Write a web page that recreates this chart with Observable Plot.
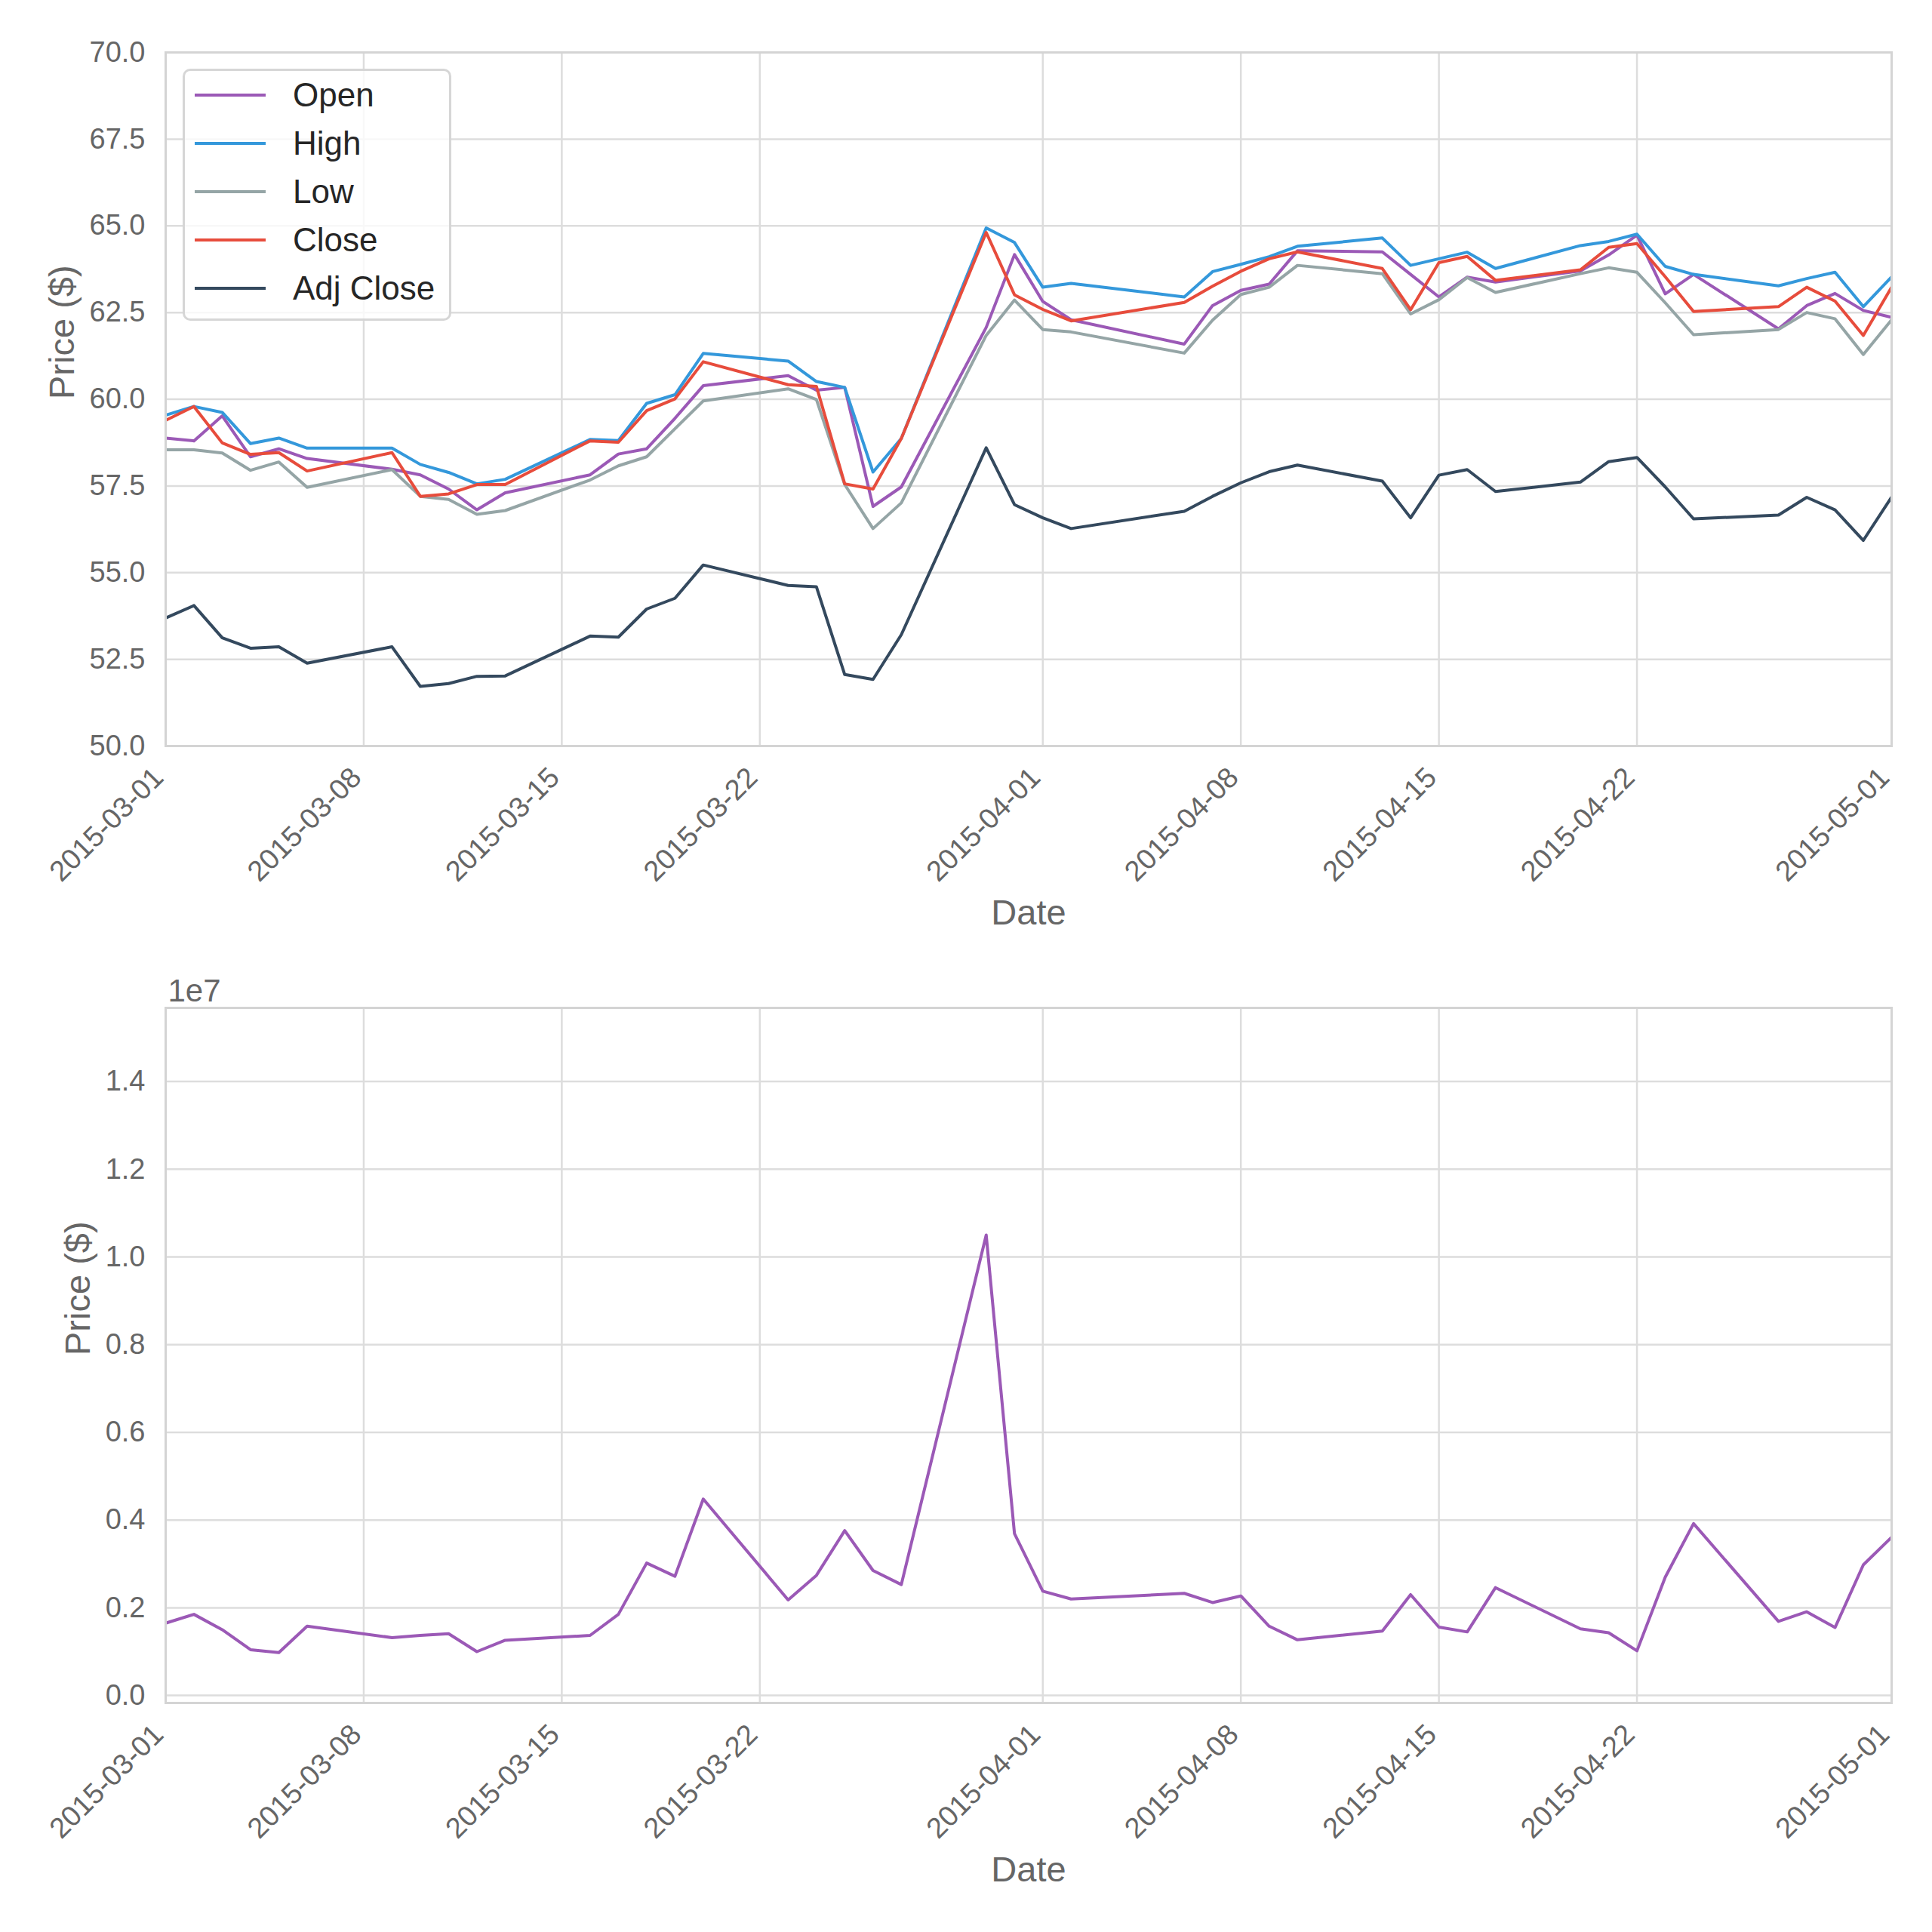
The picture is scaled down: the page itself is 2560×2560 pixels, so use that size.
<!DOCTYPE html>
<html>
<head>
<meta charset="utf-8">
<script src="https://cdn.jsdelivr.net/npm/d3@7"></script>
<script src="https://cdn.jsdelivr.net/npm/@observablehq/plot@0.6"></script>
<style>
  html, body { margin: 0; padding: 0; background: #ffffff; }
  #root { position: relative; width: 2560px; height: 2560px; font-family: "Liberation Sans", Arial, sans-serif; }
  #top, #bottom { position: absolute; left: 0; }
  #top { top: 0; }
  #bottom { top: 1280px; }
  .legend { position: absolute; left: 242px; top: 91px; width: 356px; height: 334px; box-sizing: border-box;
            border: 3px solid rgba(204,204,204,0.8); border-radius: 10px; background: rgba(255,255,255,0.8); }
  .item { position: absolute; left: 0; height: 0; }
  .sw { position: absolute; left: 13px; width: 94px; height: 0; border-top: 4px solid; top: -2px; }
  .lab { position: absolute; left: 143px; top: -25px; font-size: 44px; color: #262626; line-height: 50px; white-space: nowrap; }
</style>
</head>
<body>
<div id="root">
  <div id="top"></div>
  <div id="bottom"></div>
</div>
<script>
// ---------------- data ----------------
const dates = [
  "2015-03-01","2015-03-02","2015-03-03","2015-03-04","2015-03-05","2015-03-06",
  "2015-03-09","2015-03-10","2015-03-11","2015-03-12","2015-03-13",
  "2015-03-16","2015-03-17","2015-03-18","2015-03-19","2015-03-20",
  "2015-03-23","2015-03-24","2015-03-25","2015-03-26","2015-03-27",
  "2015-03-30","2015-03-31","2015-04-01","2015-04-02",
  "2015-04-06","2015-04-07","2015-04-08","2015-04-09","2015-04-10",
  "2015-04-13","2015-04-14","2015-04-15","2015-04-16","2015-04-17",
  "2015-04-20","2015-04-21","2015-04-22","2015-04-23","2015-04-24",
  "2015-04-27","2015-04-28","2015-04-29","2015-04-30","2015-05-01"
];
const openPrice = [
  58.88,58.80,59.52,58.34,58.57,58.29,
  57.98,57.82,57.41,56.81,57.30,
  57.82,58.42,58.57,59.45,60.39,
  60.68,60.26,60.34,56.91,57.47,
  62.07,64.17,62.82,62.29,
  61.59,62.70,63.14,63.32,64.28,
  64.25,63.60,62.95,63.52,63.38,
  63.70,64.16,64.73,63.04,63.60,
  62.03,62.70,63.05,62.56,62.36
];
const highPrice = [
  59.54,59.79,59.62,58.72,58.88,58.59,
  58.59,58.12,57.89,57.56,57.69,
  58.84,58.81,59.88,60.13,61.32,
  61.10,60.51,60.34,57.90,58.87,
  64.94,64.52,63.23,63.34,
  62.95,63.68,63.89,64.11,64.41,
  64.65,63.86,64.05,64.24,63.77,
  64.43,64.55,64.76,63.83,63.60,
  63.27,63.48,63.66,62.67,63.53
];
const lowPrice = [
  58.54,58.54,58.45,57.95,58.19,57.46,
  57.97,57.20,57.11,56.68,56.79,
  57.67,58.08,58.34,59.15,59.95,
  60.30,59.99,57.54,56.27,57.01,
  61.84,62.86,62.01,61.94,
  61.33,62.28,63.02,63.23,63.86,
  63.62,62.46,62.87,63.51,63.08,
  63.62,63.79,63.66,62.78,61.86,
  62.01,62.50,62.32,61.29,62.29
];
const closePrice = [
  59.39,59.79,58.74,58.41,58.46,57.93,
  58.46,57.20,57.27,57.54,57.54,
  58.80,58.76,59.67,60.01,61.08,
  60.42,60.37,57.56,57.41,58.87,
  64.81,63.01,62.59,62.26,
  62.79,63.26,63.69,64.05,64.25,
  63.77,62.58,63.94,64.12,63.43,
  63.73,64.38,64.49,63.53,62.53,
  62.67,63.23,62.83,61.84,63.23
];
const adjClosePrice = [
  53.69,54.05,53.12,52.82,52.86,52.39,
  52.86,51.72,51.80,52.01,52.02,
  53.17,53.14,53.95,54.26,55.22,
  54.63,54.59,52.06,51.92,53.21,
  58.60,56.96,56.58,56.27,
  56.77,57.20,57.59,57.91,58.10,
  57.64,56.58,57.81,57.97,57.34,
  57.61,58.20,58.32,57.47,56.55,
  56.66,57.17,56.81,55.93,57.18
];
const volume = [
  1650000,1850000,1500000,1045000,980000,1580000,
  1320000,1370000,1410000,1000000,1260000,
  1370000,1850000,3020000,2720000,4480000,
  2180000,2740000,3760000,2850000,2530000,
  10500000,3690000,2380000,2200000,
  2330000,2120000,2270000,1580000,1270000,
  1470000,2300000,1560000,1450000,2460000,
  1520000,1430000,1020000,2700000,3920000,
  1690000,1910000,1550000,2980000,3610000
];
const seriesNames = ["Open","High","Low","Close","Adj Close"];
const seriesColors = ["#9b59b6","#3498db","#95a5a6","#e74c3c","#34495e"];
const volumeColor = "#9b59b6";
const xTickLabels = ["2015-03-01","2015-03-08","2015-03-15","2015-03-22","2015-04-01","2015-04-08","2015-04-15","2015-04-22","2015-05-01"];
const priceTicks = [50, 52.5, 55, 57.5, 60, 62.5, 65, 67.5, 70];
const volumeTicks = [0, 2e6, 4e6, 6e6, 8e6, 1e7, 1.2e7, 1.4e7];
const xLabel = "Date";
const yLabel = "Price ($)";
const volumeOffsetLabel = "1e7";

// ---------------- build ----------------
const FONT = '"Liberation Sans", Arial, sans-serif';
const parse = s => new Date(s + "T00:00:00Z");
const fmtDate = d3.utcFormat("%Y-%m-%d");
const xTicks = xTickLabels.map(parse);
const xDomain = [xTicks[0], xTicks[xTicks.length - 1]];
const seriesValues = [openPrice, highPrice, lowPrice, closePrice, adjClosePrice];
const priceRows = [];
seriesNames.forEach((name, s) => {
  dates.forEach((d, i) => priceRows.push({date: parse(d), value: seriesValues[s][i], series: name}));
});
const volumeRows = dates.map((d, i) => ({date: parse(d), value: volume[i]}));

const GRID = {stroke: "#dddddd", strokeOpacity: 1, strokeWidth: 2.5};
const FRAME = {stroke: "#d4d4d4", strokeOpacity: 1, strokeWidth: 3};
const TXT = "#666666";
const LW = 4;

function xAxisMarks() {
  return [
    Plot.axisX(xTicks, {tickSize: 0, tickPadding: 25, tickRotate: -45, textAnchor: "end", lineAnchor: "top",
                        dx: -20, tickFormat: fmtDate, label: null, fill: TXT, fontSize: 38}),
    Plot.text([xLabel], {frameAnchor: "bottom", dy: 236, lineAnchor: "bottom", fontSize: 47, fill: TXT})
  ];
}

const topPlot = Plot.plot({
  width: 2560, height: 1280,
  marginLeft: 219, marginRight: 54, marginTop: 69, marginBottom: 292,
  x: {type: "utc", domain: xDomain},
  y: {domain: [50, 70]},
  color: {domain: seriesNames, range: seriesColors},
  style: {fontFamily: FONT, fontSize: "38px", color: TXT, background: "transparent", overflow: "visible"},
  marks: [
    Plot.gridX(xTicks, GRID),
    Plot.gridY(priceTicks, GRID),
    Plot.line(priceRows, {x: "date", y: "value", z: "series", stroke: "series", strokeWidth: LW, strokeLinejoin: "round", strokeLinecap: "butt"}),
    Plot.frame(FRAME),
    Plot.axisY(priceTicks, {tickSize: 0, tickPadding: 27, tickFormat: d => d.toFixed(1), label: null, fill: TXT, fontSize: 38}),
    Plot.text([yLabel], {frameAnchor: "left", dx: -155, rotate: -90, lineAnchor: "top", fontSize: 47, fill: TXT}),
    ...xAxisMarks()
  ]
});
document.getElementById("top").appendChild(topPlot);

const bottomPlot = Plot.plot({
  width: 2560, height: 1280,
  marginLeft: 219, marginRight: 54, marginTop: 55, marginBottom: 304,
  x: {type: "utc", domain: xDomain},
  y: {domain: [-170000, 15680000]},
  style: {fontFamily: FONT, fontSize: "38px", color: TXT, background: "transparent", overflow: "visible"},
  marks: [
    Plot.gridX(xTicks, GRID),
    Plot.gridY(volumeTicks, GRID),
    Plot.line(volumeRows, {x: "date", y: "value", stroke: volumeColor, strokeWidth: LW, strokeLinejoin: "round", strokeLinecap: "butt"}),
    Plot.frame(FRAME),
    Plot.axisY(volumeTicks, {tickSize: 0, tickPadding: 27, tickFormat: d => (d / 1e7).toFixed(1), label: null, fill: TXT, fontSize: 38}),
    Plot.text([yLabel], {frameAnchor: "left", dx: -134, rotate: -90, lineAnchor: "top", fontSize: 47, fill: TXT}),
    Plot.text([volumeOffsetLabel], {frameAnchor: "top-left", dx: 3, dy: -9, textAnchor: "start", lineAnchor: "bottom", fontSize: 42, fill: TXT}),
    ...xAxisMarks()
  ]
});
document.getElementById("bottom").appendChild(bottomPlot);

// ---------------- legend (HTML overlay inside top axes) ----------------
const legend = document.createElement("div");
legend.className = "legend";
seriesNames.forEach((name, i) => {
  const item = document.createElement("div");
  item.className = "item";
  item.style.top = (32 + 64 * i) + "px";
  const sw = document.createElement("div");
  sw.className = "sw";
  sw.style.borderTopColor = seriesColors[i];
  const lab = document.createElement("div");
  lab.className = "lab";
  lab.textContent = name;
  item.appendChild(sw);
  item.appendChild(lab);
  legend.appendChild(item);
});
document.getElementById("top").appendChild(legend);
</script>
</body>
</html>
